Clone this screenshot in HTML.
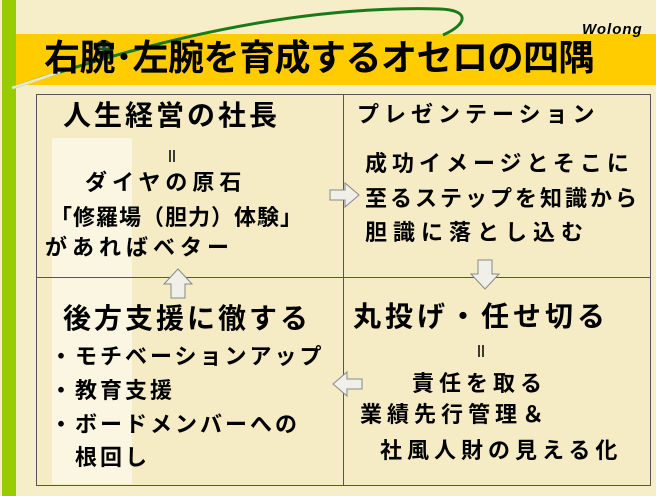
<!DOCTYPE html>
<html><head><meta charset="utf-8"><style>
body{margin:0;width:656px;height:496px;overflow:hidden;background:#f6eec9;position:relative;font-family:"Liberation Sans","Noto Sans CJK JP",sans-serif;color:#000}
div.t{position:absolute;white-space:nowrap;line-height:1}
.h{font-size:28px;font-weight:bold;letter-spacing:3px}
.b{font-size:22px;font-weight:bold;letter-spacing:3px}
</style></head><body>
<div style="position:absolute;left:2px;top:0;width:14px;height:496px;background:#99cc00"></div>
<div style="position:absolute;left:16px;top:34px;width:640px;height:51px;background:#ffcc00"></div>
<div style="position:absolute;left:36px;top:94px;width:613px;height:390px;border:1px solid #555;background:#f5ecc6"></div>
<div style="position:absolute;left:52px;top:138px;width:80px;height:346px;background:#fbf6e2"></div>
<div style="position:absolute;left:343px;top:94px;width:1px;height:391px;background:#555"></div>
<div style="position:absolute;left:36px;top:277px;width:614px;height:1px;background:#555"></div>
<svg style="position:absolute;left:0;top:0" width="656" height="496">
<path d="M12 88 C150 40 300 5 440 9 C470 10 468 24 443 35" fill="none" stroke="#1a7a1a" stroke-width="3"/>
<path d="M12 88 L60 72" stroke="#e8e8c8" stroke-width="3"/>
<circle cx="104" cy="49" r="9" fill="#225522"/>
<g fill="#ccc"><circle cx="101" cy="46" r="1.6"/><circle cx="107" cy="46" r="1.6"/><circle cx="101" cy="52" r="1.6"/><circle cx="107" cy="52" r="1.6"/></g>
<g stroke="#000" stroke-width="1.5">
<line x1="170" y1="150" x2="170" y2="162"/><line x1="174" y1="150" x2="174" y2="162"/>
<line x1="479" y1="345" x2="479" y2="357"/><line x1="483" y1="345" x2="483" y2="357"/>
</g>
<g fill="#f0f0e8" stroke="#888" stroke-width="1">
<path d="M330 190 h15 v-7 l14 12 l-14 12 v-7 h-15z"/>
<path d="M478 260 h14 v14 h7 l-14 15 l-14 -15 h7z"/>
<path d="M362 379 h-15 v-7 l-14 12 l14 12 v-7 h15z"/>
<path d="M171 298 h14 v-14 h7 l-14 -15 l-14 15 h7z"/>
</g>
</svg>
<div class="t" style="left:582px;top:22px;font-size:15px;font-style:italic;font-weight:bold;letter-spacing:1px">Wolong</div>
<div class="t" style="left:44px;top:40px;font-size:36px;font-weight:bold;letter-spacing:-0.5px">右腕･左腕を育成するオセロの四隅</div>
<div class="t h" style="left:63px;top:102px">人生経営の社長</div>
<div class="t b" style="left:85px;top:172px;letter-spacing:5px">ダイヤの原石</div>
<div class="t b" style="left:50px;top:207px;letter-spacing:1px">「修羅場（胆力）体験」</div>
<div class="t b" style="left:45px;top:237px;letter-spacing:5px">があればベター</div>
<div class="t b" style="left:357px;top:104px;letter-spacing:5px">プレゼンテーション</div>
<div class="t b" style="left:365px;top:153px;letter-spacing:5px">成功イメージとそこに</div>
<div class="t b" style="left:365px;top:188px;letter-spacing:3px">至るステップを知識から</div>
<div class="t b" style="left:365px;top:222px;letter-spacing:6px">胆識に落とし込む</div>
<div class="t h" style="left:63px;top:305px;letter-spacing:3px">後方支援に徹する</div>
<div class="t b" style="left:50px;top:346px;letter-spacing:3px">・モチベーションアップ</div>
<div class="t b" style="left:50px;top:380px;letter-spacing:3px">・教育支援</div>
<div class="t b" style="left:50px;top:414px;letter-spacing:3px">・ボードメンバーへの</div>
<div class="t b" style="left:75px;top:447px;letter-spacing:3px">根回し</div>
<div class="t h" style="left:353px;top:303px;letter-spacing:4px">丸投げ・任せ切る</div>
<div class="t b" style="left:412px;top:373px;letter-spacing:5px">責任を取る</div>
<div class="t b" style="left:360px;top:404px;letter-spacing:5px">業績先行管理＆</div>
<div class="t b" style="left:380px;top:440px;letter-spacing:5px">社風人財の見える化</div>
</body></html>
